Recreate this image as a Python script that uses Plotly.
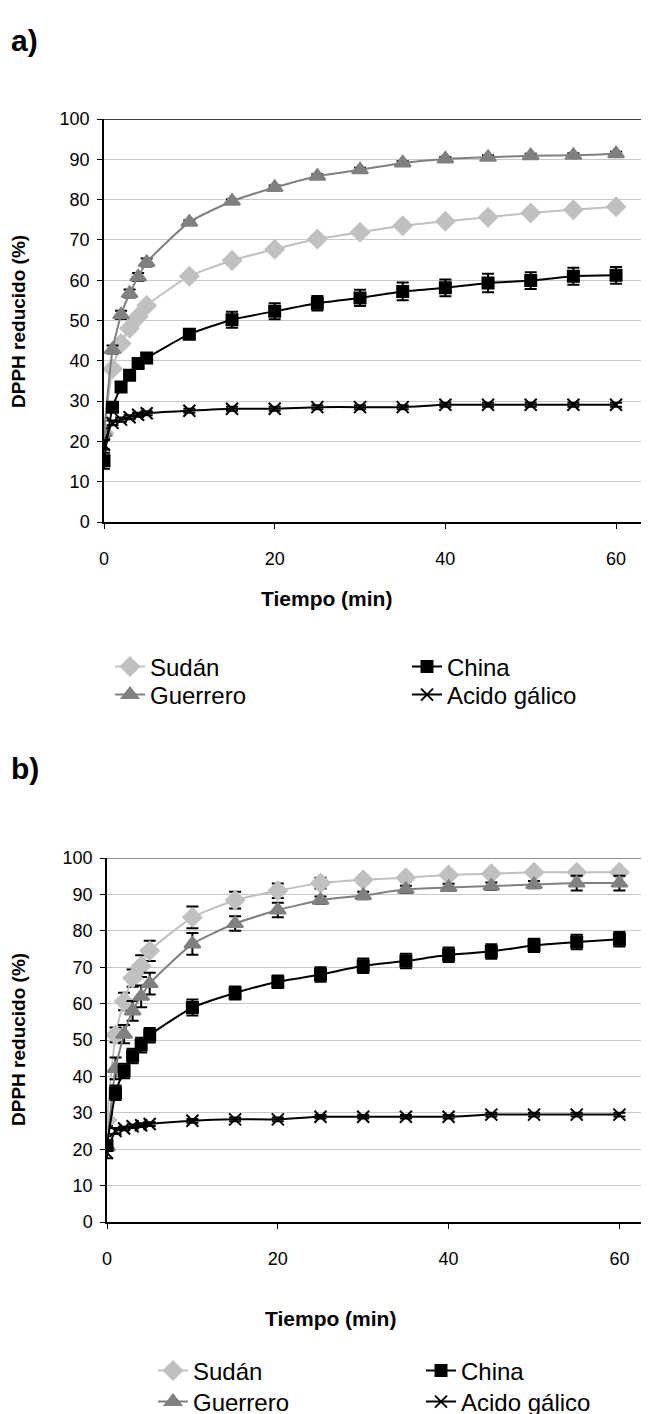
import plotly.graph_objects as go

# ---------------- data ----------------
tiempo = [0, 1, 2, 3, 4, 5, 10, 15, 20, 25, 30, 35, 40, 45, 50, 55, 60]

# panel a
sudan_a = [22.0, 38.0, 44.3, 48.1, 50.9, 53.7, 61.0, 64.9, 67.7, 70.2, 71.9, 73.5, 74.6, 75.6, 76.7, 77.5, 78.2]
sudan_a_err = [0.5, 0.8, 0.8, 0.8, 0.8, 0.8, 0.5, 0.3, 0.3, 0.3, 0.3, 0.3, 0.3, 0.3, 0.3, 0.3, 0.4]
guerrero_a = [22.2, 42.8, 51.4, 56.7, 60.8, 64.4, 74.4, 79.6, 83.0, 85.8, 87.4, 89.1, 90.1, 90.5, 90.9, 91.0, 91.4]
guerrero_a_err = [1.0, 1.0, 1.0, 1.0, 1.0, 1.0, 0.5, 0.5, 0.5, 0.5, 0.5, 0.5, 0.5, 0.5, 0.5, 0.5, 0.5]
china_a = [15.2, 28.5, 33.5, 36.4, 39.3, 40.7, 46.6, 50.2, 52.3, 54.3, 55.6, 57.2, 58.1, 59.3, 59.9, 61.0, 61.2]
china_a_err = [2.0, 1.0, 1.0, 1.0, 1.0, 1.0, 1.0, 2.0, 2.0, 1.8, 2.0, 2.2, 2.1, 2.3, 2.1, 2.1, 2.1]
acido_a = [19.2, 24.6, 25.4, 26.0, 26.6, 27.0, 27.6, 28.1, 28.1, 28.5, 28.5, 28.5, 29.1, 29.1, 29.1, 29.1, 29.1]
acido_a_err = [1.2, 0.6, 0.5, 0.5, 0.5, 0.5, 0.5, 0.5, 0.5, 0.5, 0.5, 0.5, 0.5, 0.5, 0.5, 0.5, 0.5]

# panel b
sudan_b = [28.0, 51.4, 60.6, 67.0, 70.3, 74.5, 83.7, 88.4, 91.0, 93.1, 94.0, 94.6, 95.3, 95.7, 96.1, 96.1, 96.1]
sudan_b_err = [1.5, 2.0, 2.4, 2.4, 3.0, 2.8, 3.0, 2.3, 2.0, 1.5, 1.0, 1.0, 0.6, 0.5, 0.5, 0.5, 0.5]
guerrero_b = [20.7, 42.2, 51.6, 58.0, 62.0, 65.5, 76.4, 82.0, 85.7, 88.4, 89.7, 91.4, 91.9, 92.3, 92.7, 93.1, 93.1]
guerrero_b_err = [1.0, 3.0, 2.5, 2.7, 3.0, 3.0, 3.0, 2.0, 2.0, 1.0, 1.0, 1.0, 1.0, 1.0, 1.0, 2.0, 2.0]
china_b = [21.0, 35.5, 41.5, 45.6, 48.6, 51.3, 58.9, 62.9, 66.0, 68.0, 70.4, 71.7, 73.4, 74.3, 76.0, 76.9, 77.7]
china_b_err = [1.0, 2.0, 2.0, 2.0, 2.0, 2.0, 2.2, 1.8, 1.7, 2.0, 2.0, 2.0, 2.0, 2.0, 1.8, 2.0, 2.0]
acido_b = [19.0, 25.0, 25.7, 26.3, 26.6, 26.9, 27.8, 28.2, 28.2, 28.9, 28.9, 28.9, 28.9, 29.5, 29.5, 29.5, 29.5]
acido_b_err = [1.5, 0.8, 0.5, 0.5, 0.5, 0.5, 0.5, 0.5, 0.5, 0.5, 0.5, 0.5, 0.5, 0.5, 0.5, 0.5, 0.5]

series_names = ["Sudán", "Guerrero", "China", "Acido gálico"]
y_ticks = [0, 10, 20, 30, 40, 50, 60, 70, 80, 90, 100]
x_ticks = [0, 20, 40, 60]

FONT = "Liberation Sans, Arial, sans-serif"
W, H = 649, 1414
OFF = 8  # page offset of the plot div

styles = {
    "Sudán": dict(color="#c0c0c0", symbol="diamond", size=14),
    "China": dict(color="#000000", symbol="square", size=11),
    "Guerrero": dict(color="#808080", symbol="triangle-up", size=14),
    "Acido gálico": dict(color="#000000", symbol="x-thin-open", size=12),
}

data_a = {"Sudán": (sudan_a, sudan_a_err), "China": (china_a, china_a_err),
          "Guerrero": (guerrero_a, guerrero_a_err), "Acido gálico": (acido_a, acido_a_err)}
data_b = {"Sudán": (sudan_b, sudan_b_err), "China": (china_b, china_b_err),
          "Guerrero": (guerrero_b, guerrero_b_err), "Acido gálico": (acido_b, acido_b_err)}


def px_x(p):
    return (p - OFF) / W


def px_y(p):
    return 1 - (p - OFF) / H


# legend text positions (screen px): text left x, row centre y
legend_pos_a = {"Sudán": (151, 667), "Guerrero": (151, 695),
                "China": (448, 667), "Acido gálico": (448, 695)}
legend_pos_b = {"Sudán": (194, 1371), "Guerrero": (194, 1402),
                "China": (462, 1371), "Acido gálico": (462, 1402)}

fig = go.Figure()
legend_layout = {}
leg_counter = [0]


def new_legend(tx, ty):
    leg_counter[0] += 1
    key = "legend" if leg_counter[0] == 1 else "legend%d" % leg_counter[0]
    legend_layout[key] = dict(
        orientation="v", x=px_x(tx - 41), y=px_y(ty), xanchor="left", yanchor="middle",
        font=dict(family=FONT, size=24, color="#000000"), tracegroupgap=0,
        bgcolor="rgba(0,0,0,0)", borderwidth=0)
    return key


def add_panel(data, xa, ya, lpos):
    for name in series_names:
        y, e = data[name]
        st = styles[name]
        key = new_legend(*lpos[name])
        fig.add_trace(go.Scatter(
            x=tiempo, y=y, name=name, mode="lines+markers",
            xaxis=xa, yaxis=ya, legend=key,
            line=dict(color=st["color"], width=2, shape="spline", smoothing=0.5),
            marker=dict(symbol=st["symbol"], size=st["size"], color=st["color"],
                        line=dict(color=st["color"], width=2)),
            error_y=dict(type="data", array=e, visible=True, color="#000000",
                         thickness=2, width=6),
        ))


add_panel(data_a, "x", "y", legend_pos_a)
add_panel(data_b, "x2", "y2", legend_pos_b)

axis_common = dict(showline=True, linecolor="#000000", ticks="outside", tickcolor="#000000",
                   ticklen=5, tickfont=dict(family=FONT, size=18, color="#000000"),
                   zeroline=False, automargin=False)

fig.update_layout(
    template="none",
    width=W, height=H, margin=dict(l=0, r=0, t=0, b=0, autoexpand=False),
    paper_bgcolor="white", plot_bgcolor="white",
    font=dict(family=FONT, color="#000000"),
    xaxis=dict(domain=[px_x(104), 1.0], range=[0, 64.8], tickvals=x_ticks,
               showgrid=False, linewidth=2, anchor="y", ticklabelstandoff=14, **axis_common),
    yaxis=dict(domain=[px_y(522), px_y(119)], range=[0, 100], tickvals=y_ticks,
               showgrid=True, gridcolor="#c8c8c8", gridwidth=1, linewidth=1.5,
               anchor="x", ticklabelstandoff=4, **axis_common),
    xaxis2=dict(domain=[px_x(107), 1.0], range=[0, 64.4], tickvals=x_ticks,
                showgrid=False, linewidth=2, anchor="y2", ticklabelstandoff=14, **axis_common),
    yaxis2=dict(domain=[px_y(1222), px_y(858)], range=[0, 100], tickvals=y_ticks,
                showgrid=True, gridcolor="#c8c8c8", gridwidth=1, linewidth=1.5,
                anchor="x2", ticklabelstandoff=4, **axis_common),
    showlegend=True,
    **legend_layout,
)

# top border lines at 100
fig.add_shape(type="line", xref="x domain", yref="y", x0=0, x1=1, y0=100, y1=100,
              line=dict(color="#000000", width=1.5))
fig.add_shape(type="line", xref="x2 domain", yref="y2", x0=0, x1=1, y0=100, y1=100,
              line=dict(color="#707070", width=1.5))

ann = []
ann.append(dict(text="<b>a)</b>", x=px_x(9), y=px_y(40), xref="paper", yref="paper",
                xanchor="left", yanchor="middle", showarrow=False,
                font=dict(family=FONT, size=30)))
ann.append(dict(text="<b>b)</b>", x=px_x(9), y=px_y(768), xref="paper", yref="paper",
                xanchor="left", yanchor="middle", showarrow=False,
                font=dict(family=FONT, size=30)))
for yc, xc in [(322, 18), (1040, 18)]:
    ann.append(dict(text="<b>DPPH reducido (%)</b>", x=px_x(xc), y=px_y(yc), xref="paper",
                    yref="paper", xanchor="center", yanchor="middle", showarrow=False,
                    textangle=-90, font=dict(family=FONT, size=19)))
for yc, xc in [(598, 326), (1318, 330)]:
    ann.append(dict(text="<b>Tiempo (min)</b>", x=px_x(xc), y=px_y(yc), xref="paper",
                    yref="paper", xanchor="center", yanchor="middle", showarrow=False,
                    font=dict(family=FONT, size=21)))
fig.update_layout(annotations=ann)

fig.write_html("out.html")
